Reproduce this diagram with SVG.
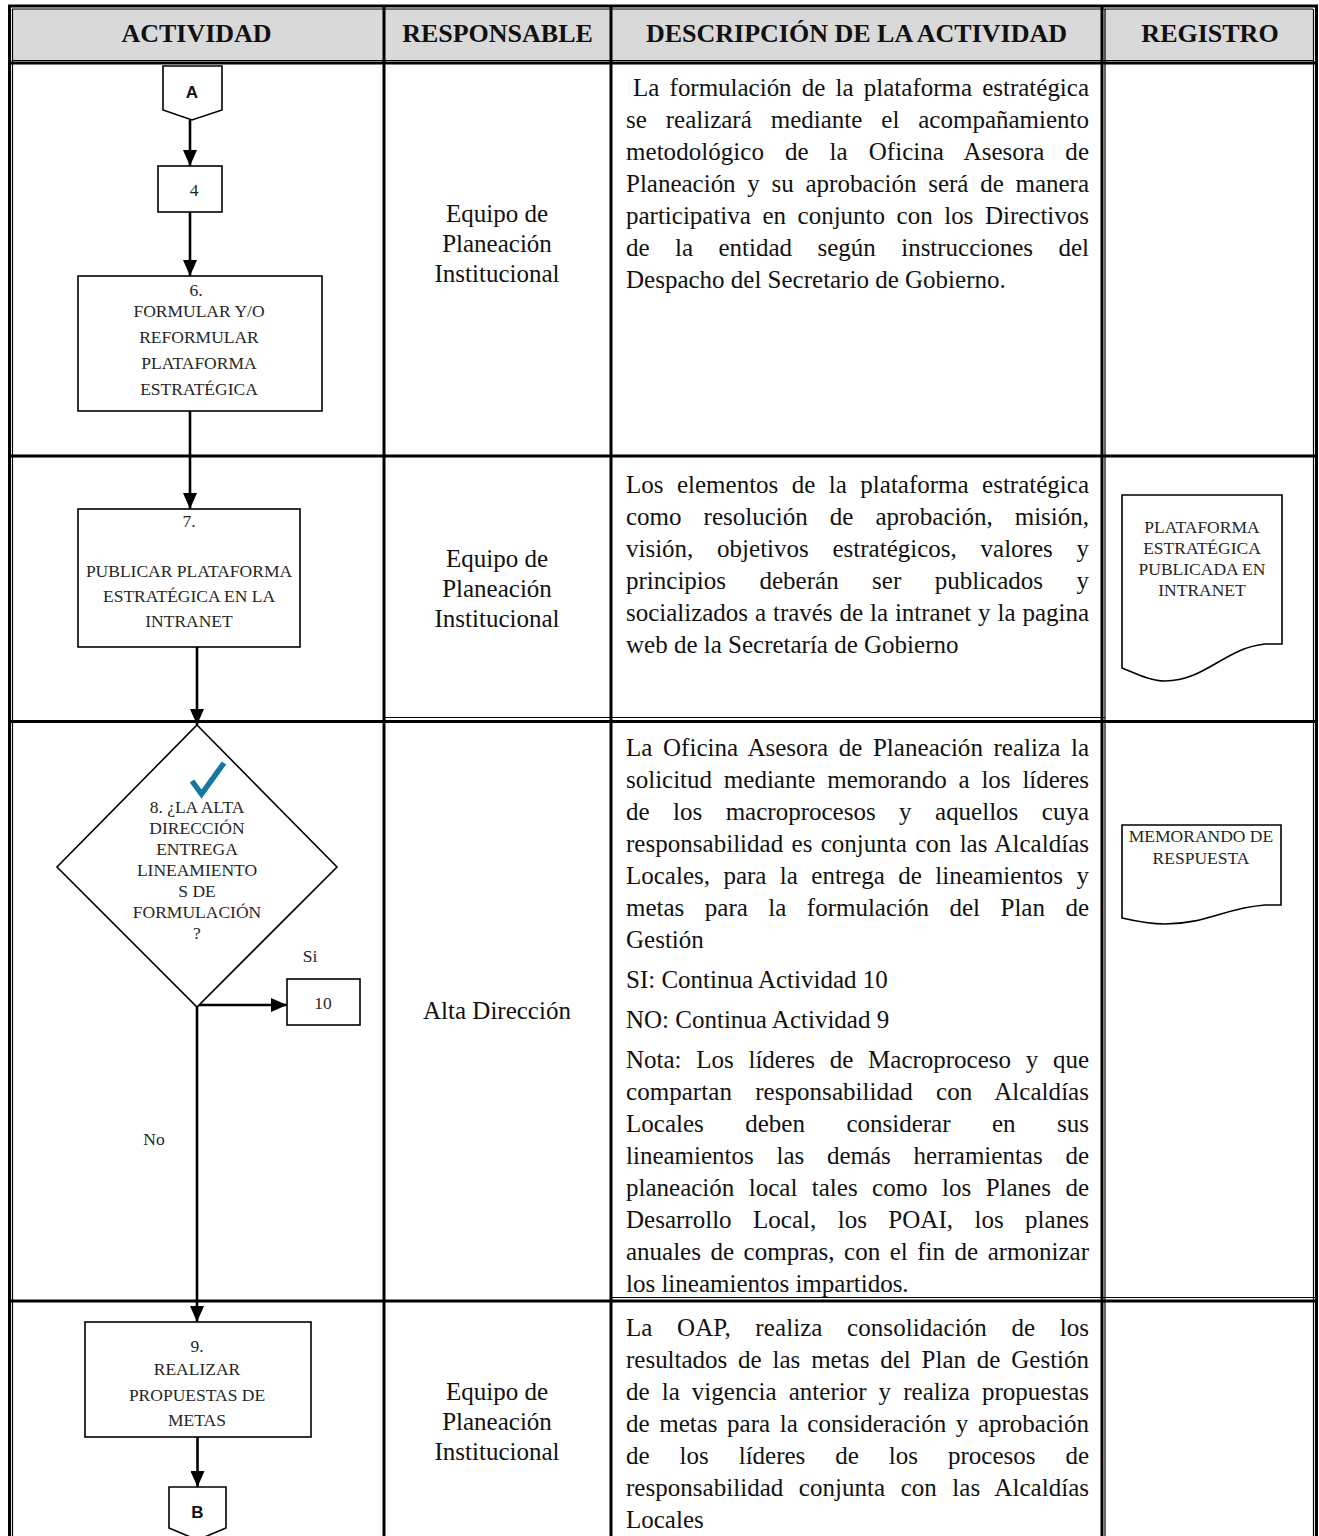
<svg xmlns="http://www.w3.org/2000/svg" width="1319" height="1536" viewBox="0 0 1319 1536">
<style>
.hdr{font-family:"Liberation Serif","Times New Roman",serif;font-weight:bold;font-size:26px;text-anchor:middle;fill:#111}
.desc{font-family:"Liberation Serif","Times New Roman",serif;font-size:25px;fill:#111}
.resp{font-family:"Liberation Serif","Times New Roman",serif;font-size:25px;fill:#111;text-anchor:middle}
.sm{font-family:"Liberation Serif","Times New Roman",serif;font-size:17.5px;fill:#262626;text-anchor:middle}
.conn{font-family:"Liberation Sans",Arial,sans-serif;font-weight:bold;font-size:17px;fill:#111;text-anchor:middle}
.box{fill:#fff;stroke:#000;stroke-width:1.6}
.thick{stroke:#000;stroke-width:3;fill:none}
.thin{stroke:#000;stroke-width:1.2;fill:none}
.edge{stroke:#000;stroke-width:2.6;fill:none}
</style>
<defs>
<marker id="arr" viewBox="0 0 16 14" refX="16" refY="7" markerWidth="16" markerHeight="14" markerUnits="userSpaceOnUse" orient="auto">
<path d="M0,0 L16,7 L0,14 z" fill="#000"/>
</marker>
</defs>
<rect width="1319" height="1536" fill="#fff"/>
<g id="table">
<rect x="12" y="9" width="1301" height="51" fill="#d9d9d9"/>
<line class="thick" x1="8" y1="6" x2="1318" y2="6"/>
<line class="thin" x1="12" y1="9" x2="1313" y2="9"/>
<line class="thick" x1="9.5" y1="5" x2="9.5" y2="1536"/>
<line class="thin" x1="12.5" y1="9" x2="12.5" y2="1536"/>
<line class="thin" x1="1313.5" y1="9" x2="1313.5" y2="1536"/>
<line class="thick" x1="1316.5" y1="5" x2="1316.5" y2="1536"/>
<line class="thin" x1="12" y1="60.5" x2="1313" y2="60.5"/>
<line class="thick" x1="9" y1="63" x2="1316" y2="63"/>
<line class="thick" x1="384" y1="6" x2="384" y2="1536"/>
<line class="thick" x1="611" y1="6" x2="611" y2="1536"/>
<line class="thick" x1="1102" y1="6" x2="1102" y2="1536"/>
<line class="thin" x1="1105" y1="9" x2="1105" y2="1536"/>
<line class="thick" x1="9" y1="456" x2="1316" y2="456"/>
<line class="thin" x1="384" y1="717.5" x2="1105" y2="717.5"/>
<line class="thick" x1="9" y1="721.5" x2="1316" y2="721.5"/>
<line class="thin" x1="611" y1="1297.5" x2="1316" y2="1297.5"/>
<line class="thick" x1="9" y1="1301" x2="1316" y2="1301"/>
<text class="hdr" x="196.5" y="42">ACTIVIDAD</text>
<text class="hdr" x="497.5" y="42">RESPONSABLE</text>
<text class="hdr" x="856.5" y="42">DESCRIPCIÓN DE LA ACTIVIDAD</text>
<text class="hdr" x="1210" y="42">REGISTRO</text>
</g>
<g id="responsables">
<text class="resp" x="497" y="222">Equipo de</text>
<text class="resp" x="497" y="252">Planeación</text>
<text class="resp" x="497" y="282">Institucional</text>
<text class="resp" x="497" y="567">Equipo de</text>
<text class="resp" x="497" y="597">Planeación</text>
<text class="resp" x="497" y="627">Institucional</text>
<text class="resp" x="497" y="1019">Alta Dirección</text>
<text class="resp" x="497" y="1400">Equipo de</text>
<text class="resp" x="497" y="1430">Planeación</text>
<text class="resp" x="497" y="1460">Institucional</text>
</g>
<g id="descripciones">
<text class="desc" x="633" y="96" textLength="456" lengthAdjust="spacing" style="word-spacing:4px">La formulación de la plataforma estratégica</text>
<text class="desc" x="626" y="128" textLength="463" lengthAdjust="spacing" style="word-spacing:12.7px">se realizará mediante el acompañamiento</text>
<text class="desc" x="626" y="160" textLength="463" lengthAdjust="spacing" style="word-spacing:14.7px">metodológico de la Oficina Asesora de</text>
<text class="desc" x="626" y="192" textLength="463" lengthAdjust="spacing" style="word-spacing:5.5px">Planeación y su aprobación será de manera</text>
<text class="desc" x="626" y="224" textLength="463" lengthAdjust="spacing" style="word-spacing:5.3px">participativa en conjunto con los Directivos</text>
<text class="desc" x="626" y="256" textLength="463" lengthAdjust="spacing" style="word-spacing:19.2px">de la entidad según instrucciones del</text>
<text class="desc" x="626" y="288">Despacho del Secretario de Gobierno.</text>

<text class="desc" x="626" y="493" textLength="463" lengthAdjust="spacing" style="word-spacing:7.2px">Los elementos de la plataforma estratégica</text>
<text class="desc" x="626" y="525" textLength="463" lengthAdjust="spacing" style="word-spacing:15.8px">como resolución de aprobación, misión,</text>
<text class="desc" x="626" y="557" textLength="463" lengthAdjust="spacing" style="word-spacing:17.5px">visión, objetivos estratégicos, valores y</text>
<text class="desc" x="626" y="589" textLength="463" lengthAdjust="spacing" style="word-spacing:27.2px">principios deberán ser publicados y</text>
<text class="desc" x="626" y="621" textLength="463" lengthAdjust="spacing" style="word-spacing:0.7px">socializados a través de la intranet y la pagina</text>
<text class="desc" x="626" y="653">web de la Secretaría de Gobierno</text>

<text class="desc" x="626" y="756" textLength="463" lengthAdjust="spacing" style="word-spacing:4.3px">La Oficina Asesora de Planeación realiza la</text>
<text class="desc" x="626" y="788" textLength="463" lengthAdjust="spacing" style="word-spacing:5.6px">solicitud mediante memorando a los líderes</text>
<text class="desc" x="626" y="820" textLength="463" lengthAdjust="spacing" style="word-spacing:17.2px">de los macroprocesos y aquellos cuya</text>
<text class="desc" x="626" y="852" textLength="463" lengthAdjust="spacing" style="word-spacing:2px">responsabilidad es conjunta con las Alcaldías</text>
<text class="desc" x="626" y="884" textLength="463" lengthAdjust="spacing" style="word-spacing:7.2px">Locales, para la entrega de lineamientos y</text>
<text class="desc" x="626" y="916" textLength="463" lengthAdjust="spacing" style="word-spacing:14.2px">metas para la formulación del Plan de</text>
<text class="desc" x="626" y="948">Gestión</text>
<text class="desc" x="626" y="988">SI: Continua Actividad 10</text>
<text class="desc" x="626" y="1028">NO: Continua Actividad 9</text>
<text class="desc" x="626" y="1068" textLength="463" lengthAdjust="spacing" style="word-spacing:8.5px">Nota: Los líderes de Macroproceso y que</text>
<text class="desc" x="626" y="1100" textLength="463" lengthAdjust="spacing" style="word-spacing:17px">compartan responsabilidad con Alcaldías</text>
<text class="desc" x="626" y="1132" textLength="463" lengthAdjust="spacing" style="word-spacing:35.2px">Locales deben considerar en sus</text>
<text class="desc" x="626" y="1164" textLength="463" lengthAdjust="spacing" style="word-spacing:16.5px">lineamientos las demás herramientas de</text>
<text class="desc" x="626" y="1196" textLength="463" lengthAdjust="spacing" style="word-spacing:8.2px">planeación local tales como los Planes de</text>
<text class="desc" x="626" y="1228" textLength="463" lengthAdjust="spacing" style="word-spacing:15.2px">Desarrollo Local, los POAI, los planes</text>
<text class="desc" x="626" y="1260" textLength="463" lengthAdjust="spacing" style="word-spacing:3.3px">anuales de compras, con el fin de armonizar</text>
<text class="desc" x="626" y="1292">los lineamientos impartidos.</text>

<text class="desc" x="626" y="1336" textLength="463" lengthAdjust="spacing" style="word-spacing:18.2px">La OAP, realiza consolidación de los</text>
<text class="desc" x="626" y="1368" textLength="463" lengthAdjust="spacing" style="word-spacing:4.6px">resultados de las metas del Plan de Gestión</text>
<text class="desc" x="626" y="1400" textLength="463" lengthAdjust="spacing" style="word-spacing:5.8px">de la vigencia anterior y realiza propuestas</text>
<text class="desc" x="626" y="1432" textLength="463" lengthAdjust="spacing" style="word-spacing:3.3px">de metas para la consideración y aprobación</text>
<text class="desc" x="626" y="1464" textLength="463" lengthAdjust="spacing" style="word-spacing:23.7px">de los líderes de los procesos de</text>
<text class="desc" x="626" y="1496" textLength="463" lengthAdjust="spacing" style="word-spacing:9.2px">responsabilidad conjunta con las Alcaldías</text>
<text class="desc" x="626" y="1528">Locales</text>
</g>
<g id="connectors">
<path class="edge" d="M190,120 V166" marker-end="url(#arr)"/>
<path class="edge" d="M190,212 V276" marker-end="url(#arr)"/>
<path class="edge" d="M190,411 V509" marker-end="url(#arr)"/>
<path class="edge" d="M197,647 V725" marker-end="url(#arr)"/>
<path class="edge" d="M197,1005 H287" marker-end="url(#arr)"/>
<path class="edge" d="M197,1007 V1322" marker-end="url(#arr)"/>
<path class="edge" d="M197.5,1437 V1487" marker-end="url(#arr)"/>
</g>
<g id="node-A">
<path class="box" d="M163,66 H222 V110 L192,120 L163,110 Z"/>
<text class="conn" x="192" y="98">A</text>
</g>
<g id="node-4">
<rect class="box" x="158" y="166" width="64" height="46"/>
<text class="sm" x="194" y="196">4</text>
</g>
<g id="node-6">
<rect class="box" x="78" y="276" width="244" height="135"/>
<text class="sm" x="196" y="296">6.</text>
<text class="sm" x="199" y="317">FORMULAR Y/O</text>
<text class="sm" x="199" y="343">REFORMULAR</text>
<text class="sm" x="199" y="369">PLATAFORMA</text>
<text class="sm" x="199" y="395">ESTRATÉGICA</text>
</g>
<g id="node-7">
<rect class="box" x="78" y="509" width="222" height="138"/>
<text class="sm" x="189" y="527">7.</text>
<text class="sm" x="189" y="577">PUBLICAR PLATAFORMA</text>
<text class="sm" x="189" y="602">ESTRATÉGICA EN LA</text>
<text class="sm" x="189" y="627">INTRANET</text>
</g>
<g id="node-8">
<path class="box" d="M197,725 L337,867 L197,1007 L57,867 Z"/>
<path d="M192,781 L201.5,794 L224,763" fill="none" stroke="#17789f" stroke-width="5.5" stroke-linejoin="miter"/>
<text class="sm" x="197" y="813">8. ¿LA ALTA</text>
<text class="sm" x="197" y="834">DIRECCIÓN</text>
<text class="sm" x="197" y="855">ENTREGA</text>
<text class="sm" x="197" y="876">LINEAMIENTO</text>
<text class="sm" x="197" y="897">S DE</text>
<text class="sm" x="197" y="918">FORMULACIÓN</text>
<text class="sm" x="197" y="939">?</text>
<text class="sm" x="310" y="962">Si</text>
<text class="sm" x="154" y="1145">No</text>
</g>
<g id="node-10">
<rect class="box" x="287" y="979" width="73" height="46"/>
<text class="sm" x="323" y="1009">10</text>
</g>
<g id="node-9">
<rect class="box" x="85" y="1322" width="226" height="115"/>
<text class="sm" x="197" y="1352">9.</text>
<text class="sm" x="197" y="1375">REALIZAR</text>
<text class="sm" x="197" y="1401">PROPUESTAS DE</text>
<text class="sm" x="197" y="1426">METAS</text>
</g>
<g id="node-B">
<path class="box" d="M169,1487 H226 V1528 L197.5,1540 L169,1528 Z"/>
<text class="conn" x="197.5" y="1518">B</text>
</g>
<g id="doc-1">
<path class="box" d="M1122,495 H1282 V644 H1265 C1225,648 1205,681 1165,681 C1150,681 1135,673 1122,668 Z"/>
<text class="sm" x="1202" y="533">PLATAFORMA</text>
<text class="sm" x="1202" y="554">ESTRATÉGICA</text>
<text class="sm" x="1202" y="575">PUBLICADA EN</text>
<text class="sm" x="1202" y="596">INTRANET</text>
</g>
<g id="doc-2">
<path class="box" d="M1122,825 H1281 V905 H1265 C1225,908 1205,924 1165,924 C1150,924 1135,921 1122,918 Z"/>
<text class="sm" x="1201" y="842">MEMORANDO DE</text>
<text class="sm" x="1201" y="864">RESPUESTA</text>
</g>
</svg>
